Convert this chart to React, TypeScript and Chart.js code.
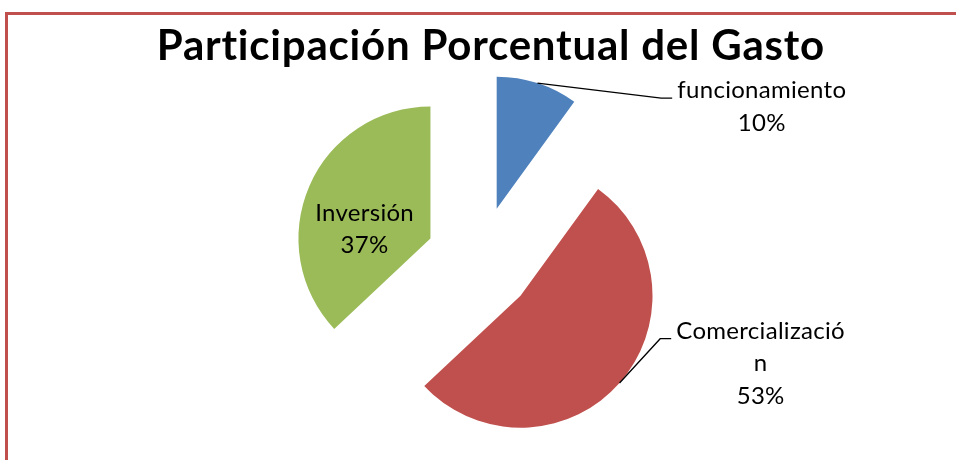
import React, { useEffect, useRef } from "react";
import { Chart, registerables } from "chart.js";

Chart.register(...registerables);

// ---- data ----
const categories = ["funcionamiento", "Comercialización", "Inversión"];
const values = [10, 53, 37];
const labelLines = [["funcionamiento"], ["Comercializació", "n"], ["Inversión"]];
const colors = ["#4F81BD", "#C0504D", "#9BBB59"];
const titleText = "Participación Porcentual del Gasto";

// ---- layout ----
const EXPLODE = 54;
const RADIUS = 132;
const FONT_FAMILY = "Lato, 'Open Sans', sans-serif";
const LABEL_FONT = `24px ${FONT_FAMILY}`;
const LABEL_WIDTH = 169; // width of "funcionamiento" in the reference
const TITLE_FONT = `bold 42px ${FONT_FAMILY}`;
const TITLE_WIDTH = 669;
const LINE_GAP = 32.5;
const labelPlacement = [
  { dx: 265, dy: -110.5, outside: true },
  { dx: 240, dy: 43, outside: true },
  { dx: -66, dy: -18, outside: false },
];

const explodePlugin = {
  id: "explodeSlices",
  afterDatasetUpdate(chart: any, args: any) {
    const meta = chart.getDatasetMeta(args.index);
    meta.data.forEach((arc: any) => {
      const mid = (arc.startAngle + arc.endAngle) / 2;
      arc.x += Math.cos(mid) * EXPLODE;
      arc.y += Math.sin(mid) * EXPLODE;
    });
  },
};

const fitSpacing = (ctx: any, text: string, target: number) => {
  ctx.letterSpacing = "0px";
  const w = ctx.measureText(text).width;
  const ls = Math.max(-1, Math.min(1.5, (target - w) / text.length));
  ctx.letterSpacing = ls + "px";
  return ls;
};

const labelsPlugin = {
  id: "sliceLabels",
  afterDatasetsDraw(chart: any) {
    const ctx = chart.ctx as any;
    const meta = chart.getDatasetMeta(0);
    const total = values.reduce((a, b) => a + b, 0);
    ctx.save();
    ctx.fillStyle = "#000";
    ctx.textAlign = "center";
    ctx.textBaseline = "alphabetic";
    ctx.font = TITLE_FONT;
    const ls = fitSpacing(ctx, titleText, TITLE_WIDTH);
    ctx.fillText(titleText, 490.5 + ls / 2, 60);
    ctx.font = LABEL_FONT;
    const lls = fitSpacing(ctx, labelLines[0][0], LABEL_WIDTH);
    ctx.strokeStyle = "#000";
    ctx.lineWidth = 1.3;
    meta.data.forEach((arc: any, i: number) => {
      const { x, y, startAngle, endAngle, outerRadius } = arc.getProps(
        ["x", "y", "startAngle", "endAngle", "outerRadius"],
        true
      );
      const p = labelPlacement[i];
      const cx = x + p.dx;
      const by = y + p.dy;
      const lines = [...labelLines[i], Math.round((values[i] / total) * 100) + "%"];
      lines.forEach((t, k) => ctx.fillText(t, cx + lls / 2, by + k * LINE_GAP));
      if (p.outside) {
        const mid = (startAngle + endAngle) / 2;
        const ax = x + Math.cos(mid) * outerRadius;
        const ay = y + Math.sin(mid) * outerRadius;
        const w = ctx.measureText(lines[0]).width;
        const ex = cx - w / 2 - 5;
        ctx.beginPath();
        ctx.moveTo(ax, ay);
        ctx.lineTo(ex - 11, by);
        ctx.lineTo(ex, by);
        ctx.stroke();
      }
    });
    ctx.restore();
  },
};

export default function App() {
  const canvasRef = useRef<HTMLCanvasElement | null>(null);

  useEffect(() => {
    document.body.style.margin = "0";
    const canvas = canvasRef.current;
    if (!canvas) return;
    const chart = new Chart(canvas, {
      type: "pie",
      data: {
        labels: categories,
        datasets: [
          {
            data: values,
            backgroundColor: colors,
            borderWidth: 0,
            radius: RADIUS,
          } as any,
        ],
      },
      options: {
        animation: false,
        responsive: true,
        maintainAspectRatio: false,
        events: [],
        layout: { padding: { left: 4, right: 0, top: 70, bottom: 10 } },
        plugins: {
          legend: { display: false },
          tooltip: { enabled: false },
          title: { display: false },
        },
      },
      plugins: [explodePlugin, labelsPlugin],
    });
    return () => chart.destroy();
  }, []);

  return (
    <div style={{ position: "relative", width: 956, height: 460, overflow: "hidden", background: "#fff" }}>
      <div
        style={{
          position: "absolute",
          left: 5,
          top: 12,
          width: 1200,
          height: 800,
          borderLeft: "3px solid #C0504D",
          borderTop: "3px solid #C0504D",
        }}
      />
      <div style={{ position: "absolute", left: 0, top: 0, width: 956, height: 460 }}>
        <canvas ref={canvasRef} />
      </div>
    </div>
  );
}
